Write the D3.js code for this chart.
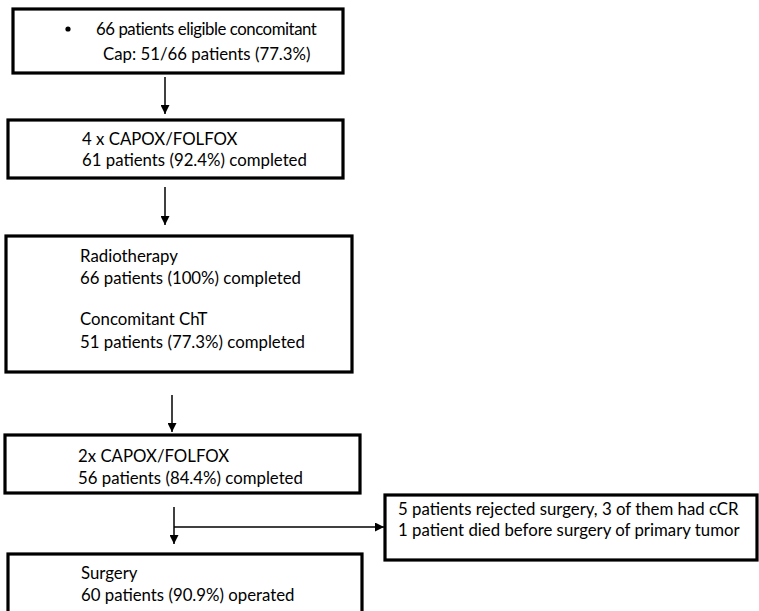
<!DOCTYPE html>
<html>
<head>
<meta charset="utf-8">
<script src="https://d3js.org/d3.v7.min.js"></script>
<style>
body { margin: 0; background: #fff; }
text { font-family: Lato, "Open Sans", sans-serif; fill: #000; }
</style>
</head>
<body>
<div id="chart"></div>
<script>
// text of each step in the flow
var step1 = ["66 patients eligible concomitant", "Cap: 51/66 patients (77.3%)"];
var step2 = ["4 x CAPOX/FOLFOX", "61 patients (92.4%) completed"];
var step3 = ["Radiotherapy", "66 patients (100%) completed", "Concomitant ChT", "51 patients (77.3%) completed"];
var step4 = ["2x CAPOX/FOLFOX", "56 patients (84.4%) completed"];
var sideNote = ["5 patients rejected surgery, 3 of them had cCR", "1 patient died before surgery of primary tumor"];
var step5 = ["Surgery", "60 patients (90.9%) operated"];

// layout of the boxes (pixels)
var boxes = [
	{ lines: step1, x: 13, y: 9, w: 330, h: 64, tx: 96, ty: [35, 60], tdx: [0, 7], bullet: true },
	{ lines: step2, x: 8, y: 120, w: 335, h: 58, tx: 82, ty: [145, 166] },
	{ lines: step3, x: 6, y: 236, w: 346, h: 136, tx: 80, ty: [262, 284, 325, 348] },
	{ lines: step4, x: 5, y: 435, w: 355, h: 58, tx: 78, ty: [462, 484] },
	{ lines: sideNote, x: 385, y: 495, w: 372, h: 65, tx: 398, ty: [515, 536] },
	{ lines: step5, x: 8, y: 554, w: 354, h: 70, tx: 81, ty: [579, 601] }
];

// arrows [x1, y1, x2, y2]
var arrows = [
	[165, 77, 165, 114],
	[165, 187, 165, 225],
	[172, 395, 172, 432],
	[174, 507, 174, 544],
	[174, 527, 384, 527]
];

var svg = d3.select("#chart")
	.append("svg")
	.attr("width", 759)
	.attr("height", 611);

svg.append("defs").append("marker")
	.attr("id", "head")
	.attr("viewBox", "0 0 10 10")
	.attr("refX", 10)
	.attr("refY", 5)
	.attr("markerWidth", 10)
	.attr("markerHeight", 9)
	.attr("markerUnits", "userSpaceOnUse")
	.attr("orient", "auto")
	.append("path")
	.attr("d", "M0,0 L10,5 L0,10 Z")
	.style("fill", "#000");

svg.selectAll(".box")
	.data(boxes)
	.enter().append("rect")
	.attr("class", "box")
	.attr("x", function(d) { return d.x; })
	.attr("y", function(d) { return d.y; })
	.attr("width", function(d) { return d.w; })
	.attr("height", function(d) { return d.h; })
	.style("fill", "#fff")
	.style("stroke", "#000")
	.style("stroke-width", 3.2);

var group = svg.selectAll(".label")
	.data(boxes)
	.enter().append("g")
	.attr("class", "label");

group.selectAll("text")
	.data(function(d) {
		return d.lines.map(function(s, i) {
			return { s: s, x: d.tx + (d.tdx ? d.tdx[i] : 0), y: d.ty[i], first: d.bullet && i == 0 };
		});
	})
	.enter().append("text")
	.attr("x", function(d) { return d.x; })
	.attr("y", function(d) { return d.y; })
	.style("font-size", "16.8px")
	.style("letter-spacing", function(d) { return d.first ? "-0.45px" : null; })
	.text(function(d) { return d.s; });

// bullet in the first box
group.filter(function(d) { return d.bullet; })
	.append("circle")
	.attr("cx", 68)
	.attr("cy", 29)
	.attr("r", 2.6)
	.style("fill", "#000");

svg.selectAll(".arrow")
	.data(arrows)
	.enter().append("line")
	.attr("class", "arrow")
	.attr("x1", function(d) { return d[0]; })
	.attr("y1", function(d) { return d[1]; })
	.attr("x2", function(d) { return d[2]; })
	.attr("y2", function(d) { return d[3]; })
	.style("stroke", "#000")
	.style("stroke-width", 1.5)
	.attr("marker-end", "url(#head)");
</script>
</body>
</html>
